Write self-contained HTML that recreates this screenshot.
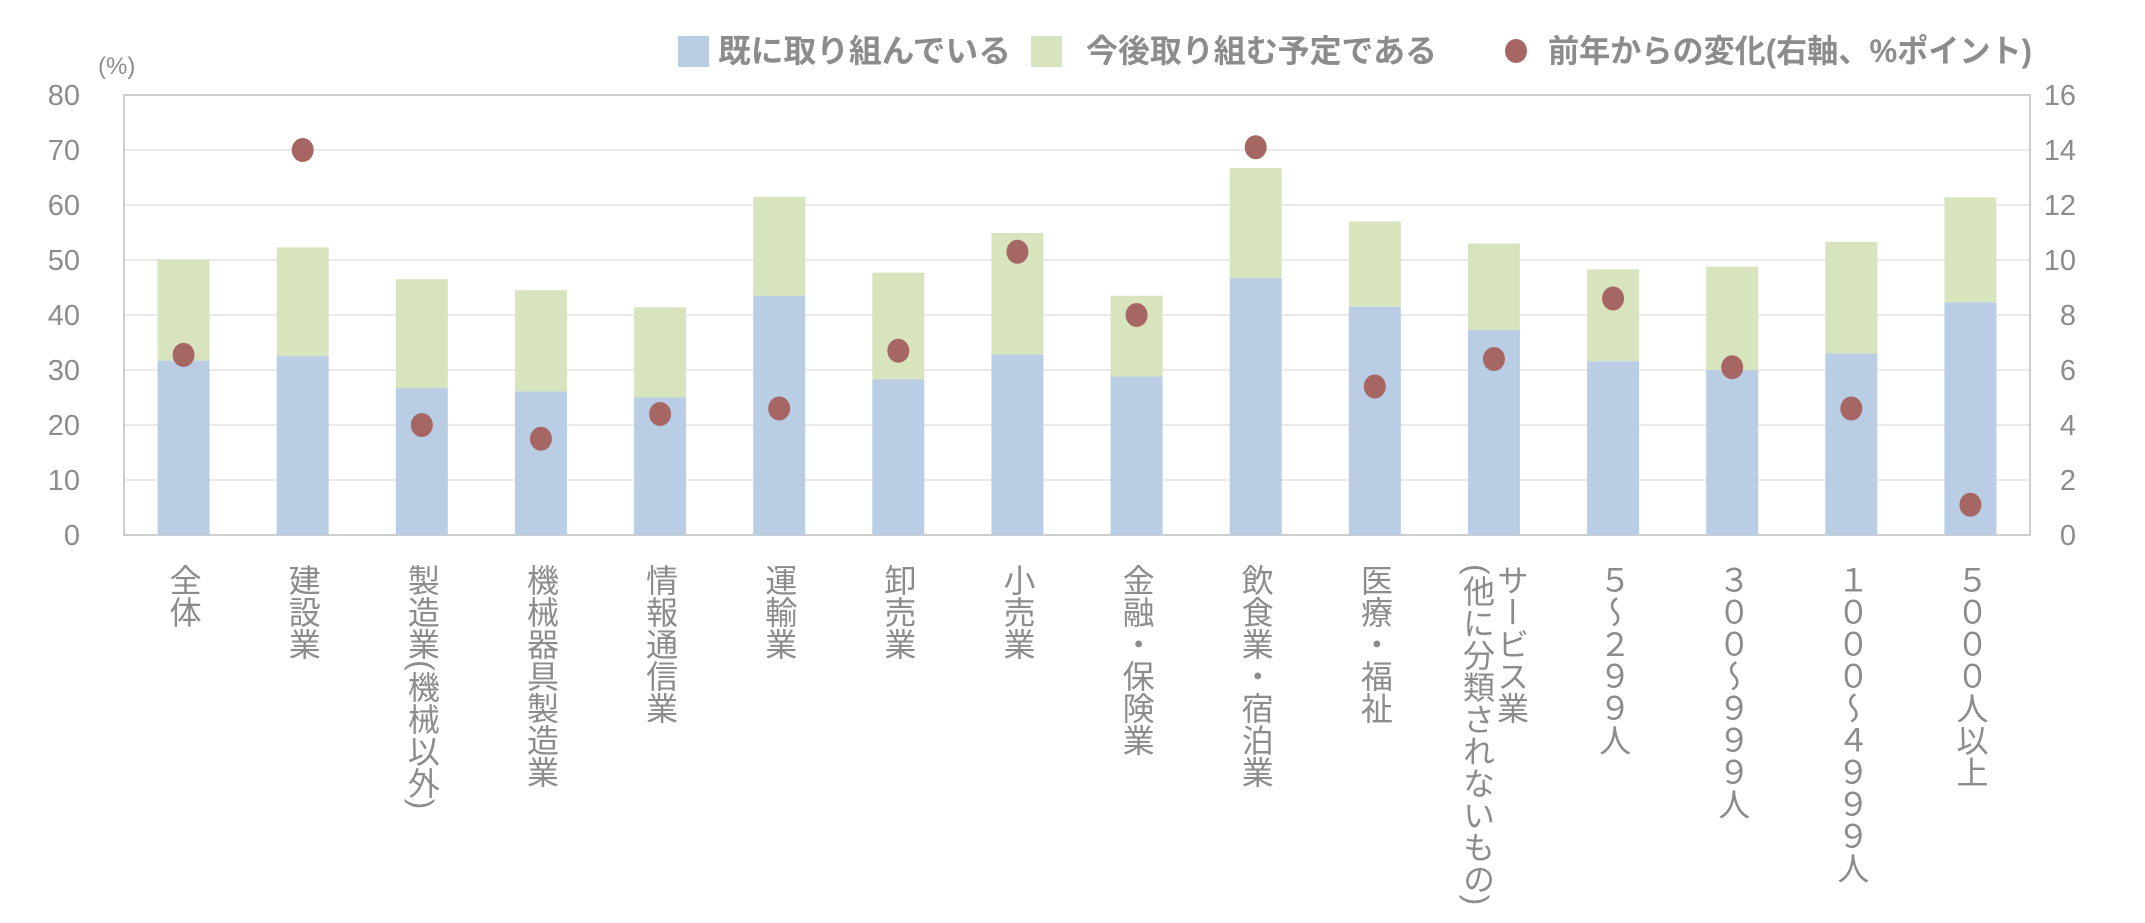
<!DOCTYPE html>
<html><head><meta charset="utf-8"><style>
body{margin:0;background:#fff;}
svg text{font-family:"Liberation Sans Narrow","Liberation Sans","Noto Sans CJK JP",sans-serif;fill:#8c8c8c;}
.lab{font-family:"Liberation Sans","Noto Sans CJK JP",sans-serif;font-size:32px;writing-mode:vertical-rl;fill:#8c8c8c;}
.leg{font-family:"Liberation Sans","Noto Sans CJK JP",sans-serif;font-size:32px;font-weight:bold;fill:#8c8c8c;}
</style></head><body>
<svg width="2145" height="918" xmlns="http://www.w3.org/2000/svg">
<g stroke="#e3e3e3" stroke-width="1.5">
<line x1="124" y1="150" x2="2030" y2="150"/><line x1="124" y1="205" x2="2030" y2="205"/>
<line x1="124" y1="260" x2="2030" y2="260"/><line x1="124" y1="315" x2="2030" y2="315"/>
<line x1="124" y1="370" x2="2030" y2="370"/><line x1="124" y1="425" x2="2030" y2="425"/>
<line x1="124" y1="480" x2="2030" y2="480"/>
</g>
<rect x="124" y="95" width="1906" height="440" fill="none" stroke="#bdbdbd" stroke-width="1.5"/>
<g font-size="29" text-anchor="end">
<text x="80" y="105">80</text><text x="80" y="160">70</text><text x="80" y="215">60</text><text x="80" y="270">50</text><text x="80" y="325">40</text><text x="80" y="380">30</text><text x="80" y="435">20</text><text x="80" y="490">10</text><text x="80" y="545">0</text>
</g>
<g font-size="29" text-anchor="end">
<text x="2076" y="105">16</text><text x="2076" y="160">14</text><text x="2076" y="215">12</text><text x="2076" y="270">10</text><text x="2076" y="325">8</text><text x="2076" y="380">6</text><text x="2076" y="435">4</text><text x="2076" y="490">2</text><text x="2076" y="545">0</text>
</g>
<text x="98" y="74" font-size="24">(%)</text>
<g id="bars"></g>
<rect x="678" y="36" width="31" height="31" fill="#b9cde4"/>
<text class="leg" x="718" y="62" textLength="293" lengthAdjust="spacingAndGlyphs">既に取り組んでいる</text>
<rect x="1031" y="36" width="31" height="31" fill="#d8e4bd"/>
<text class="leg" x="1086" y="62" textLength="351" lengthAdjust="spacingAndGlyphs">今後取り組む予定である</text>
<ellipse cx="1516" cy="51" rx="11" ry="12" fill="#a66664"/>
<text class="leg" x="1548" y="62" textLength="484" lengthAdjust="spacingAndGlyphs">前年からの変化(右軸、%ポイント)</text>
<g id="labs"></g>
</svg>
<script>
var d=[["全体",31.7,50.1,6.55],["建設業",32.5,52.3,14],["製造業(機械以外)",26.7,46.5,4],["機械器具製造業",26.1,44.5,3.5],["情報通信業",25,41.4,4.4],["運輸業",43.5,61.5,4.6],["卸売業",28.3,47.7,6.7],["小売業",32.8,54.9,10.3],["金融・保険業",28.8,43.5,8],["飲食業・宿泊業",46.7,66.7,14.1],["医療・福祉",41.5,57,5.4],["サービス業",37.3,53,6.4],["５～２９９人",31.6,48.3,8.6],["３００～９９９人",30,48.8,6.1],["１０００～４９９９人",33,53.3,4.6],["５０００人以上",42.3,61.4,1.1]];
var ns="http://www.w3.org/2000/svg",b=document.getElementById("bars"),l=document.getElementById("labs");
var step=1906/d.length;
function y(v){return 535-v*5.5;}
d.forEach(function(r,i){
 var cx=124+(i+0.5)*step,w=52;
 var g=document.createElementNS(ns,"rect");g.setAttribute("x",cx-w/2);g.setAttribute("y",y(r[2]));g.setAttribute("width",w);g.setAttribute("height",y(r[1])-y(r[2]));g.setAttribute("fill","#d8e4bd");b.appendChild(g);
 var bl=document.createElementNS(ns,"rect");bl.setAttribute("x",cx-w/2);bl.setAttribute("y",y(r[1]));bl.setAttribute("width",w);bl.setAttribute("height",535-y(r[1]));bl.setAttribute("fill","#b9cde4");b.appendChild(bl);
 var e=document.createElementNS(ns,"ellipse");e.setAttribute("cx",cx);e.setAttribute("cy",535-r[3]*27.5);e.setAttribute("rx",11);e.setAttribute("ry",12);e.setAttribute("fill","#a66664");b.appendChild(e);
 function t(s,x){var tx=document.createElementNS(ns,"text");tx.setAttribute("class","lab");tx.setAttribute("x",x);tx.setAttribute("y",564);tx.textContent=s;l.appendChild(tx);}
 if(i==11){t(r[0],cx+17);t("(他に分類されないもの)",cx-17);}else t(r[0],cx);
});
</script>
</body></html>
